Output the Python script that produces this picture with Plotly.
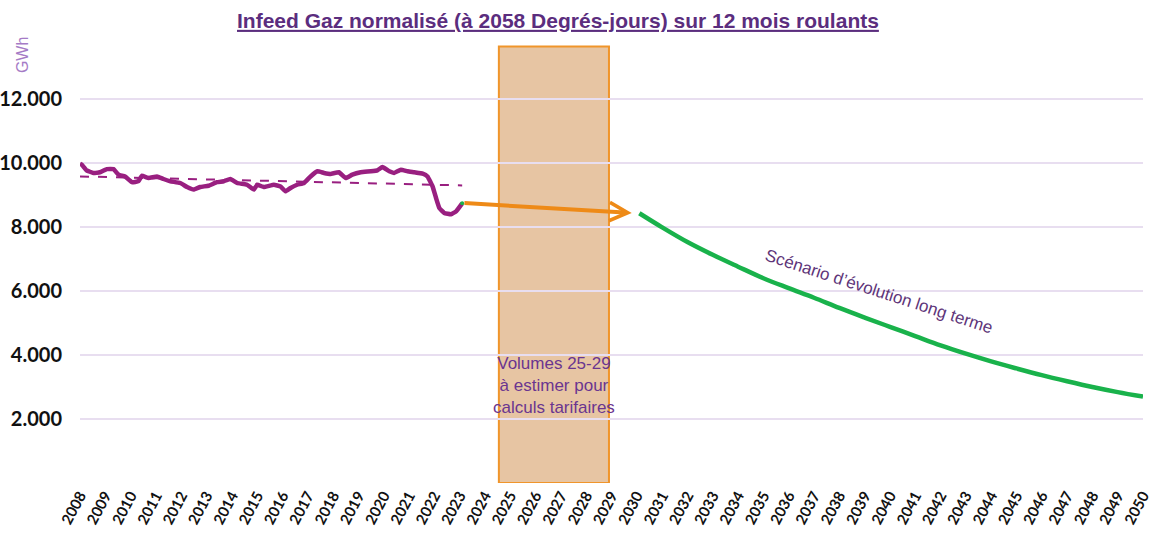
import plotly.graph_objects as go

# ---- data ----
hist_years = [2008.0, 2008.07, 2008.26, 2008.53, 2008.79, 2009.06, 2009.32, 2009.52, 2009.78, 2010.05,
              2010.31, 2010.44, 2010.71, 2011.04, 2011.30, 2011.57, 2011.96, 2012.23, 2012.49,
              2012.75, 2013.08, 2013.41, 2013.68, 2013.94, 2014.21, 2014.60, 2014.87, 2015.00,
              2015.26, 2015.66, 2015.92, 2016.12, 2016.32, 2016.58, 2016.85, 2017.11, 2017.38,
              2017.64, 2017.90, 2018.23, 2018.50, 2018.76, 2019.09, 2019.49, 2019.75, 2019.95,
              2020.22, 2020.41, 2020.68, 2020.94, 2021.21, 2021.54, 2021.73, 2021.93, 2022.07,
              2022.20, 2022.39, 2022.66, 2022.86, 2023.10]
hist_values = [9980, 9950, 9770, 9690, 9710, 9810, 9810, 9635, 9580, 9400,
               9430, 9600, 9530, 9580, 9500, 9430, 9375, 9250, 9170,
               9250, 9290, 9400, 9430, 9500, 9375, 9320, 9170, 9320,
               9250, 9320, 9270, 9115, 9220, 9320, 9375, 9580, 9740,
               9690, 9660, 9710, 9530, 9635, 9710, 9740, 9770, 9875,
               9740, 9690, 9790, 9740, 9710, 9670, 9580, 9270, 8900,
               8590, 8440, 8400, 8490, 8740]

trend_years = [2008.0, 2023.1]
trend_values = [9580, 9300]

scen_years = [2030.1, 2031, 2032, 2033, 2034, 2035, 2036, 2037, 2038, 2039, 2040,
              2041, 2042, 2043, 2044, 2045, 2046, 2047, 2048, 2049, 2050]
scen_values = [8430, 7990, 7530, 7130, 6760, 6400, 6090, 5790, 5470, 5170, 4880,
               4590, 4300, 4040, 3800, 3580, 3370, 3180, 3000, 2840, 2700]

arrow_from = (2023.13, 8750)
arrow_to = (2029.8, 8440)

box_years = (2024.55, 2028.9)
box_top = 13640

x_ticks = list(range(2008, 2051))
y_ticks = [0, 2000, 4000, 6000, 8000, 10000, 12000]
y_ticktext = ["", "2.000", "4.000", "6.000", "8.000", "10.000", "12.000"]

title_text = "Infeed Gaz normalisé (à 2058 Degrés-jours) sur 12 mois roulants"
box_text = "Volumes 25-29<br>à estimer pour<br>calculs tarifaires"
scen_text = "Scénario d’évolution long terme"

PURPLE = "#991f80"
GREEN = "#19b24b"
ORANGE = "#ee8a17"
GRID = "#e8def0"

fig = go.Figure()

# orange shaded box (drawn below traces)
fig.add_shape(type="rect", xref="x", yref="y",
              x0=box_years[0], x1=box_years[1], y0=0, y1=box_top,
              fillcolor="#e7c5a3", line=dict(color="#f0952b", width=2), layer="below")

fig.add_trace(go.Scatter(x=trend_years, y=trend_values, mode="lines",
                         line=dict(color=PURPLE, width=2, dash="dash"), hoverinfo="skip"))
fig.add_trace(go.Scatter(x=hist_years, y=hist_values, mode="lines",
                         line=dict(color=PURPLE, width=4.5, shape="spline", smoothing=0.3)))
fig.add_trace(go.Scatter(x=[hist_years[-1]], y=[hist_values[-1]], mode="markers",
                         marker=dict(color=GREEN, size=4)))
fig.add_trace(go.Scatter(x=scen_years, y=scen_values, mode="lines",
                         line=dict(color=GREEN, width=4.5, shape="spline")))

# arrow
fig.add_annotation(x=arrow_to[0], y=arrow_to[1], ax=arrow_from[0], ay=arrow_from[1],
                   xref="x", yref="y", axref="x", ayref="y", text="",
                   showarrow=True, arrowhead=5, arrowsize=0.9, arrowwidth=4,
                   arrowcolor=ORANGE)

# box text
fig.add_annotation(x=sum(box_years) / 2, y=3050, xref="x", yref="y", text=box_text,
                   showarrow=False, font=dict(family="Liberation Sans, Arial", size=17, color="#6a3590"),
                   align="center")

# scenario text
fig.add_annotation(x=2039.55, y=5990, xref="x", yref="y", text=scen_text,
                   showarrow=False, textangle=18,
                   font=dict(family="Liberation Sans, Arial", size=17, color="#5e3579"))

# GWh label
fig.add_annotation(x=-0.0546, y=0.955, xref="paper", yref="paper", text="GWh",
                   xanchor="center", yanchor="middle",
                   showarrow=False, textangle=-90,
                   font=dict(family="Liberation Sans, Arial", size=16, color="#a57bc6"))

fig.update_layout(
    width=1154, height=539,
    margin=dict(l=80, r=11, t=35, b=56),
    paper_bgcolor="white", plot_bgcolor="white",
    showlegend=False,
    title=dict(text="<b><u>" + title_text + "</u></b>", x=0.4835, xanchor="center",
               y=0.962, yanchor="middle",
               font=dict(family="Liberation Sans, Arial", size=21, color="#5b2d7e")),
    xaxis=dict(range=[2008, 2050], tickmode="array", tickvals=x_ticks,
               ticktext=[str(t) for t in x_ticks], tickangle=-62,
               showgrid=False, zeroline=False, showline=False, ticks="",
               automargin=False,
               tickfont=dict(family="Lato, Carlito, sans-serif", size=15, color="#111111"),
               fixedrange=True),
    yaxis=dict(range=[0, 14000], tickmode="array", tickvals=y_ticks, ticktext=y_ticktext,
               showgrid=True, gridcolor=GRID, gridwidth=1.5, zeroline=False, showline=False,
               ticks="", ticklabelstandoff=17, automargin=False,
               tickfont=dict(family="Lato, Carlito, sans-serif", size=20, color="#111111"),
               fixedrange=True),
)
fig.update_yaxes(tickfont_weight="bold")
fig.update_xaxes(tickfont_weight="bold")

fig.write_html("out.html", config={"displayModeBar": False},
               post_script="document.body.style.margin='0px';")
